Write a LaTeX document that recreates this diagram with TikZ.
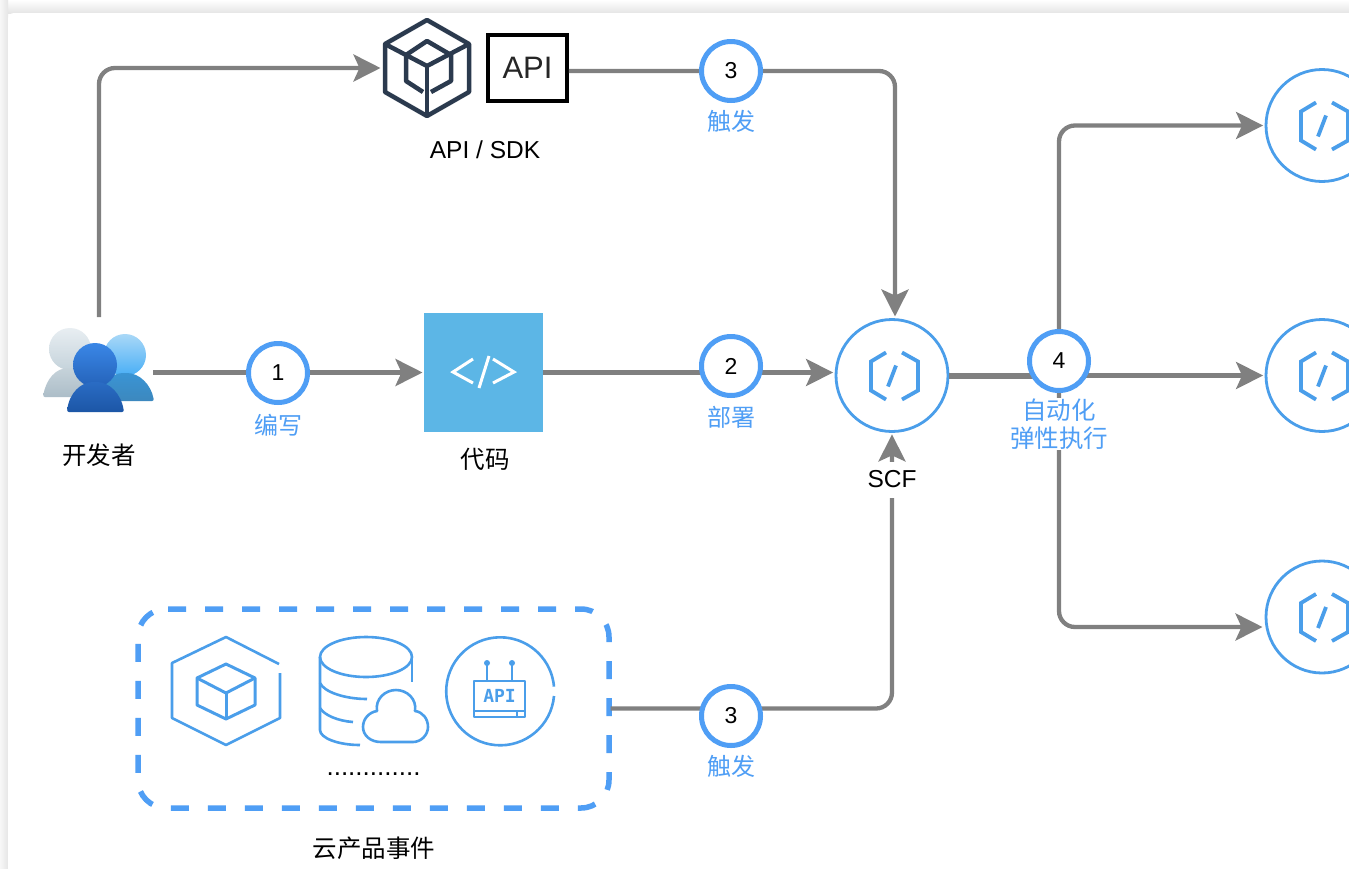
\documentclass[tikz,border=0pt]{standalone}
\usepackage{fontspec}
\setmainfont{Liberation Sans}
\newfontfamily\cjk{Noto Sans CJK SC}
\newfontfamily\apimono{DejaVu Sans Mono}
\usetikzlibrary{arrows.meta,positioning,calc}
\definecolor{flowgray}{HTML}{808080}
\definecolor{accent}{HTML}{4F9EF5}
\definecolor{iconblue}{HTML}{4A9EEA}
\definecolor{cubedark}{HTML}{2B3A4E}
\definecolor{codeblue}{HTML}{5CB6E6}
\definecolor{grayheadA}{HTML}{E8EEF2}
\definecolor{grayheadB}{HTML}{C5D3DB}
\definecolor{graybodyA}{HTML}{C6D3DA}
\definecolor{graybodyB}{HTML}{ACBDC8}
\definecolor{skyheadA}{HTML}{A9D8F7}
\definecolor{skyheadB}{HTML}{48AEF6}
\definecolor{skybodyA}{HTML}{3A94D4}
\definecolor{skybodyB}{HTML}{3C88BE}
\definecolor{frontheadA}{HTML}{3A87E6}
\definecolor{frontheadB}{HTML}{2462B9}
\definecolor{frontbodyA}{HTML}{2A6CC4}
\definecolor{frontbodyB}{HTML}{1C56A6}
\tikzset{
  flow/.style={draw=flowgray,line width=4.3pt,rounded corners=16pt},
  flowtip/.style={flow,-{Stealth[length=27pt,width=27pt,inset=6pt]},shorten >=1.5pt},
  badge/.style={circle,draw=accent,line width=5pt,fill=white,minimum size=59pt,inner sep=0pt,font=\fontsize{23}{25}\selectfont},
  fnnode/.style={circle,draw=iconblue,line width=2.8pt,fill=white,minimum size=112pt,inner sep=0pt},
  bluelabel/.style={text=accent,font=\cjk\fontsize{24}{28}\selectfont,inner sep=0pt,align=center},
  blacklabel/.style={text=black,font=\cjk\fontsize{24.5}{28}\selectfont,inner sep=0pt},
  latinlabel/.style={text=black,font=\fontsize{24.5}{28}\selectfont,inner sep=0pt},
  ghost/.style={inner sep=0pt,outer sep=0pt},
  fnglyph/.style={draw=iconblue,line width=3.8pt},
  cubeline/.style={draw=cubedark,line width=4.5pt,line join=round},
  iconline/.style={draw=iconblue,line width=2.6pt,line join=round},
  codeglyph/.style={draw=white,line width=3pt},
  dashbox/.style={draw=accent,line width=5.5pt,dash pattern=on 18pt off 19pt,rounded corners=28pt},
  fnicon/.pic={
    \draw[fnglyph] (-6,-23)--(-21,-14)--(-21,15)--(-6,24);
    \draw[fnglyph] (10,-23)--(26,-14)--(26,15)--(10,24);
    \draw[fnglyph] (4,-10)--(-4,11);
  }
}
\begin{document}
\begin{tikzpicture}[x=1pt,y=-1pt]
\useasboundingbox (0,0) rectangle (1349,868);
% page shadow
\fill[white] (0,0) rectangle (1349,868);
\shade[top color=white,bottom color=black!10] (0,0) rectangle (1349,13);
\shade[left color=black!3,right color=black!10] (0,0) rectangle (8,868);
\fill[white,rounded corners=6pt] (8,13) rectangle (1370,890);

% nodes that carry connectors
\node[ghost,minimum width=108pt,minimum height=111pt] (dev) at (99,372.5) {};
\node[ghost,minimum width=90pt,minimum height=100pt] (cube) at (427,68) {};
\node[draw=black,line width=3.5pt,minimum width=79pt,minimum height=66pt,inner sep=0pt,text=black!85,font=\fontsize{31}{33}\selectfont] (apibox) at (527.5,68) {API};
\node[fill=codeblue,minimum size=119pt,inner sep=0pt,outer sep=0pt] (code) at (483.5,372.5) {};
\node[fnnode] (scf) at (892,375.5) {};
\node[fnnode] (r1) at (1322,125.5) {};
\node[fnnode] (r2) at (1322,375.5) {};
\node[fnnode] (r3) at (1322,617) {};
\node[ghost,minimum width=473pt,minimum height=199pt] (cloud) at (374,708.5) {};
\draw[dashbox] (168,609) -- (609,609) -- (609,808) -- (138,808) -- (138,609) -- (168,609);
\coordinate (scfin) at (895,318);
\coordinate (split) at (1059,375.5);
\coordinate (r3in) at (1264,627);

% connectors
\draw[flowtip] (dev.north) |- (cube.west);
\draw[flowtip] (dev.east) -- (code.west);
\coordinate (t3out) at (apibox.east |- 0,71);
\draw[flowtip] (t3out) -| (scfin);
\draw[flowtip] (code.east) -- (code.east -| scf.west);
\draw[flowtip] (cloud.east) -| (scf.south);
\draw[draw=flowgray,line width=6pt] (scf.east) -- (split);
\draw[flowtip] (split) -- (r2.west);
\draw[flowtip] (split) |- (r1.west);
\draw[flowtip] (split) |- (r3in);

% badges and labels over the connectors
\node[badge] (b1) at (278,373) {1};
\node[badge] (b2) at (731,366) {2};
\node[badge] (b3t) at (731,71) {3};
\node[badge] (b3b) at (731,716) {3};
\node[badge] (b4) at (1059,361) {4};
\node[bluelabel] (l1) at (278,425) {编写};
\node[bluelabel] (l2) at (731,417) {部署};
\node[bluelabel] (l3t) at (731,121) {触发};
\node[bluelabel] (l3b) at (731,766) {触发};
\node[bluelabel,fill=white,inner ysep=1pt,font=\cjk\fontsize{24.5}{28}\selectfont] (l4) at (1059,424) {自动化\\弹性执行};
\node[latinlabel,fill=white,minimum height=36pt,inner xsep=3pt] (lscf) at (892,479.5) {SCF};
\node[blacklabel] (ldev) at (99,455) {开发者};
\node[blacklabel] (lcode) at (485,459) {代码};
\node[latinlabel] (lapi) at (485,150) {API / SDK};
\node[blacklabel] (lcloud) at (374,848) {云产品事件};
\node[latinlabel,font=\fontsize{26}{28}\selectfont,anchor=base] (ldots) at (373.5,775.5) {.............};

% fn icons
\pic at (scf.center) {fnicon};
\pic at (r1.center) {fnicon};
\pic at (r2.center) {fnicon};
\pic at (r3.center) {fnicon};

% code glyph
\draw[codeglyph] (473,359)--(453,372)--(473,383);
\draw[codeglyph] (489,356)--(479,388);
\draw[codeglyph] (493,359)--(514,372)--(493,383);

% API cube
\draw[cubeline] (427,20)--(469,44)--(469,92)--(427,116)--(385,92)--(385,44)--cycle;
\draw[cubeline] (385,44)--(427,66)--(469,44);
\draw[cubeline] (427,66)--(427,116);
\draw[cubeline] (406,55)--(427,41)--(451,55)--(451,81)--(431,92);
\draw[cubeline] (406,55)--(406,81)--(423,92);

% developer icon
\shade[top color=grayheadA,bottom color=grayheadB] (70,349) circle (21);
\shade[top color=graybodyA,bottom color=graybodyB,rounded corners=2pt] (43,397) .. controls (46,379) and (56,368) .. (70,368) .. controls (84,368) and (95,379) .. (97,397) -- cycle;
\shade[top color=skyheadA,bottom color=skyheadB] (125,355) circle (21);
\shade[top color=skybodyA,bottom color=skybodyB,rounded corners=2pt] (98,401) .. controls (100,383) and (112,373) .. (125,373) .. controls (139,373) and (151,384) .. (154,401) -- cycle;
\shade[top color=frontheadA,bottom color=frontheadB] (95,365) circle (22);
\shade[top color=frontbodyA,bottom color=frontbodyB,rounded corners=2pt] (67,412) .. controls (69,393) and (81,382) .. (95,382) .. controls (109,382) and (121,393) .. (124,412) -- cycle;

% cloud-product icons
\draw[iconline] (280,673)--(280,718)--(226,745)--(172,718)--(172,663)--(226,637)--(279,664);
\draw[iconline,line width=3pt] (226,664)--(255,678)--(255,705)--(226,719)--(197,705)--(197,678)--cycle;
\draw[iconline,line width=3pt] (197,678)--(226,693)--(255,678);
\draw[iconline,line width=3pt] (226,693)--(226,719);

\draw[iconline] (366,657) ellipse (46 and 20);
\draw[iconline] (320,657)--(320,730) .. controls (320,738) and (338,745) .. (360,745);
\draw[iconline] (412,657)--(412,682);
\draw[iconline] (320,683) .. controls (324,692) and (345,699) .. (367,699);
\draw[iconline] (320,708) .. controls (324,715) and (338,721) .. (353,722);
\draw[iconline,fill=white] (381,742) .. controls (370,742) and (363,735) .. (363,727) .. controls (363,718) and (370,712) .. (377,711)
  .. controls (375,699) and (385,690) .. (396,690) .. controls (407,690) and (417,699) .. (415,711)
  .. controls (423,712) and (428,719) .. (428,727) .. controls (428,735) and (421,742) .. (413,742) -- cycle;

\draw[iconline] (554,696) arc (5:355:54);
\draw[iconline] (474,681) rectangle (525,717);
\draw[iconline] (474,711)--(525,711);
\draw[iconline] (517,711)--(517,717);
\draw[iconline] (487,681)--(487,663);
\draw[iconline] (512,681)--(512,663);
\fill[iconblue] (487,663) circle (3) (512,663) circle (3);
\node[text=iconblue,font=\apimono\bfseries\fontsize{18}{20}\selectfont,inner sep=0pt] (apitxt) at (499.5,696) {API};
\end{tikzpicture}
\end{document}
